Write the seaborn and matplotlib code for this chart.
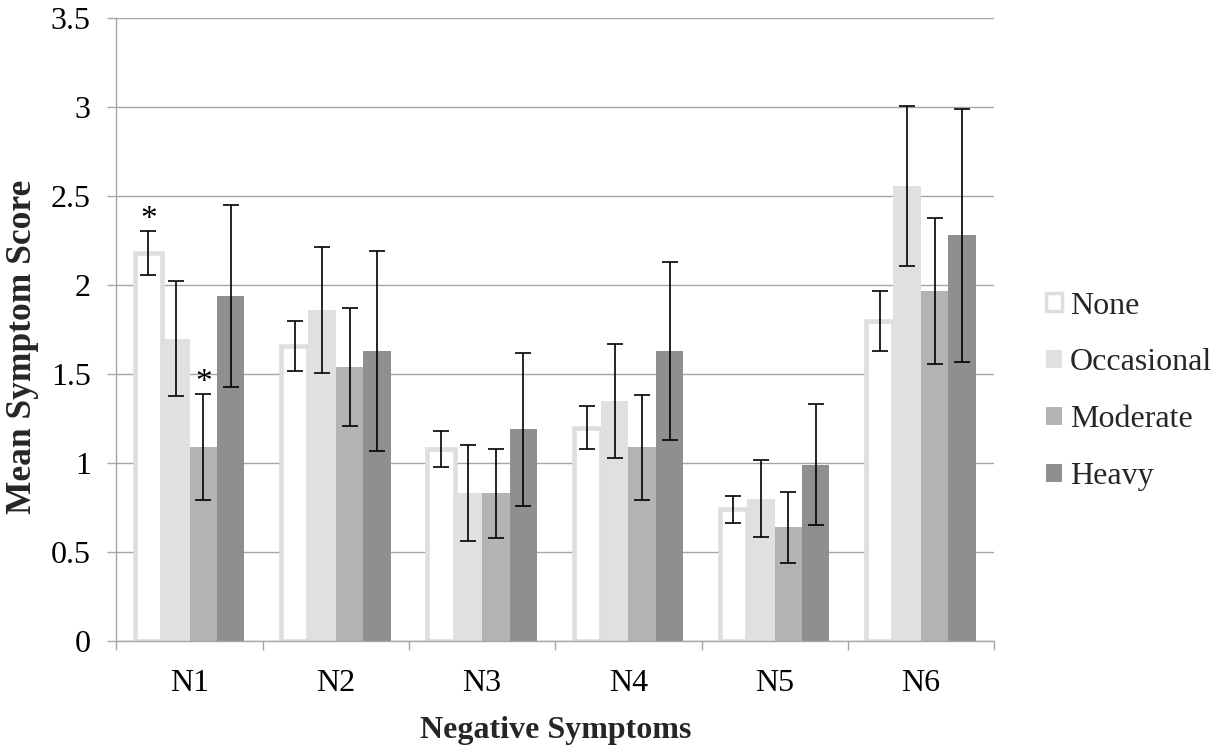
import numpy as np
import pandas as pd
import matplotlib
matplotlib.use("Agg")
import matplotlib.pyplot as plt
import seaborn as sns
from matplotlib.patches import Patch

# ---- data ----
symptoms = ["N1", "N2", "N3", "N4", "N5", "N6"]
groups = ["None", "Occasional", "Moderate", "Heavy"]
mean_none = [2.18, 1.66, 1.08, 1.20, 0.74, 1.80]
mean_occasional = [1.70, 1.86, 0.83, 1.35, 0.80, 2.56]
mean_moderate = [1.09, 1.54, 0.83, 1.09, 0.64, 1.97]
mean_heavy = [1.94, 1.63, 1.19, 1.63, 0.99, 2.28]
err_none = [0.125, 0.14, 0.10, 0.12, 0.075, 0.17]
err_occasional = [0.325, 0.355, 0.27, 0.32, 0.215, 0.45]
err_moderate = [0.30, 0.33, 0.25, 0.295, 0.20, 0.41]
err_heavy = [0.51, 0.56, 0.43, 0.50, 0.34, 0.71]
# significance markers: (symptom, group)
stars = [("N1", "None"), ("N1", "Moderate")]
yticks = [0, 0.5, 1, 1.5, 2, 2.5, 3, 3.5]
ytick_labels = ["0", "0.5", "1", "1.5", "2", "2.5", "3", "3.5"]

means = {"None": mean_none, "Occasional": mean_occasional,
         "Moderate": mean_moderate, "Heavy": mean_heavy}
errs = {"None": err_none, "Occasional": err_occasional,
        "Moderate": err_moderate, "Heavy": err_heavy}
rows = []
for g in groups:
    for s, m, e in zip(symptoms, means[g], errs[g]):
        rows.append({"symptom": s, "group": g, "score": m, "err": e})
df = pd.DataFrame(rows)

colors = {"None": "#ffffff", "Occasional": "#e0e0e0",
          "Moderate": "#b3b3b3", "Heavy": "#8f8f8f"}
edge_none = "#dedede"

sns.set_style("white")
plt.rcParams["font.family"] = ["Liberation Serif", "DejaVu Serif"]

fig = plt.figure(figsize=(12.21, 7.51), dpi=100)
ax = fig.add_axes([0.0954, 0.1465, 0.8141 - 0.0954, 0.9754 - 0.1465])

sns.barplot(data=df, x="symptom", y="score", hue="group", order=symptoms,
            hue_order=groups, palette=colors, errorbar=None, width=0.75,
            linewidth=0, saturation=1, legend=False, ax=ax)

# style the "None" bars as outlined
for patch in ax.containers[0]:
    patch.set_facecolor("white")
    patch.set_edgecolor(edge_none)
    patch.set_linewidth(3.3)

# error bars and stars
for gi, g in enumerate(groups):
    cont = ax.containers[gi]
    xs = [p.get_x() + p.get_width() / 2 for p in cont]
    ax.errorbar(xs, means[g], yerr=errs[g], fmt="none", ecolor="black",
                elinewidth=1.2, capsize=5.8, capthick=1.2, zorder=5)
    for (s, sg) in stars:
        if sg == g:
            i = symptoms.index(s)
            ax.annotate("*", xy=(xs[i], means[g][i] + errs[g][i]),
                        xytext=(0, 2), textcoords="offset points",
                        ha="center", va="baseline", fontsize=24,
                        color="black")

ax.set_xlim(-0.5, len(symptoms) - 0.5)
ax.set_ylim(0, 3.5)
ax.set_yticks(yticks)
ax.set_yticklabels(ytick_labels)
ax.yaxis.grid(True, color="#a6a6a6", linewidth=1.0)
ax.set_axisbelow(True)

# x ticks at category boundaries, labels at centers
ax.set_xticks(np.arange(-0.5, len(symptoms), 1.0))
ax.set_xticklabels([])
ax.set_xticks(np.arange(len(symptoms)), minor=True)
ax.set_xticklabels(symptoms, minor=True)
ax.tick_params(axis="x", which="major", direction="out", length=6.5,
               width=1.0, color="#a6a6a6", bottom=True)
ax.tick_params(axis="x", which="minor", length=0, pad=20, labelsize=23,
               labelcolor="black")
ax.tick_params(axis="y", direction="out", length=6.5, width=1.0,
               color="#a6a6a6", left=True, pad=12, labelsize=23,
               labelcolor="black")

for side in ["top", "right"]:
    ax.spines[side].set_visible(False)
for side in ["left", "bottom"]:
    ax.spines[side].set_color("#a6a6a6")
    ax.spines[side].set_linewidth(1.0)

ax.set_xlabel("Negative Symptoms", fontsize=23, fontweight="bold")
ax.set_ylabel("Mean Symptom Score", fontsize=25.5, fontweight="bold")
ax.xaxis.set_label_coords(0.5, -0.12)
ax.yaxis.set_label_coords(-0.088, 0.472)

handles = []
for g in groups:
    if g == "None":
        handles.append(Patch(facecolor="white", edgecolor=edge_none,
                             linewidth=2.5, label=g))
    else:
        handles.append(Patch(facecolor=colors[g], edgecolor="none", label=g))
fig.legend(handles=handles, loc="center left", bbox_to_anchor=(0.846, 0.479),
           frameon=False, fontsize=23, handlelength=0.5, handleheight=0.5,
           handletextpad=0.25, labelspacing=0.87, borderaxespad=0)

fig.savefig("out.png", dpi=100)
